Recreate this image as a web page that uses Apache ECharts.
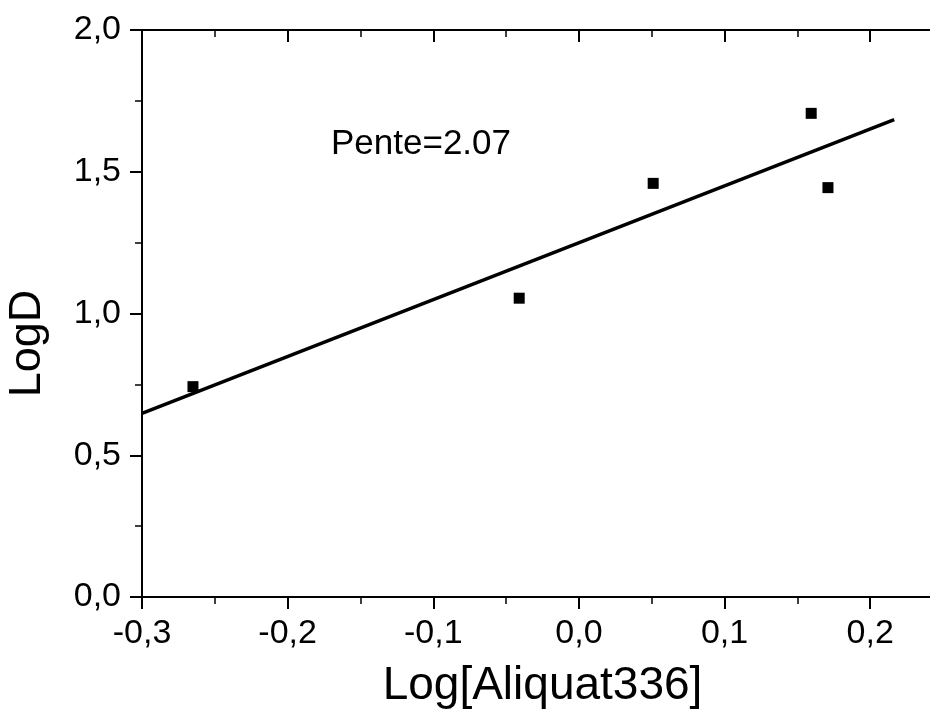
<!DOCTYPE html>
<html>
<head>
<meta charset="utf-8">
<script src="https://cdn.jsdelivr.net/npm/echarts@6/dist/echarts.min.js"></script>
<style>
  html, body { margin: 0; padding: 0; background: #fff; overflow: hidden; }
  /* wider than the window: the right frame of the plot falls just off the page */
  #chart { width: 946px; height: 714px; }
</style>
</head>
<body>
<div id="chart"></div>
<script>
// measured points: Log[Aliquat336] vs LogD
var logAliquat = [-0.265, -0.041, 0.051, 0.1595, 0.171];
var logD = [0.742, 1.054, 1.459, 1.706, 1.444];
// fitted line ends, as drawn
var fitX = [-0.3, 0.2165];
var fitY = [0.648, 1.684];
var noteText = 'Pente=2.07';

var FONT = 'Liberation Sans, Arial, sans-serif';

var points = logAliquat.map(function (x, i) { return [x, logD[i]]; });
var fitLine = fitX.map(function (x, i) { return [x, fitY[i]]; });

function commaFmt(v) {
    // only label the 0.1 steps, not the cut-off max
    if (Math.abs(Math.round(v * 10) - v * 10) > 1e-6) return '';
    if (Math.abs(v) < 1e-9) v = 0;
    return v.toFixed(1).replace('.', ',');
}

var myChart = echarts.init(document.getElementById('chart'));

var tickMajor = { show: true, length: 12, lineStyle: { color: '#000', width: 2 } };
var tickMinor = { show: true, splitNumber: 2, length: 7, lineStyle: { color: '#000', width: 1.5 } };
var line = { show: true, onZero: false, lineStyle: { color: '#000', width: 2 } };

var option = {
    animation: false,
    backgroundColor: '#fff',
    grid: { left: 142, top: 30, width: 801, height: 567, containLabel: false, outerBoundsMode: 'none' },
    xAxis: [
        {
            type: 'value', position: 'bottom',
            min: -0.3, max: 0.25, interval: 0.1,
            name: 'Log[Aliquat336]', nameLocation: 'middle', nameGap: 66,
            nameTextStyle: { fontFamily: FONT, fontSize: 46, color: '#000' },
            axisLine: line,
            axisTick: tickMajor,
            minorTick: tickMinor,
            axisLabel: { fontFamily: FONT, fontSize: 34, color: '#000', margin: 20, formatter: commaFmt, showMaxLabel: false },
            splitLine: { show: false }
        },
        {
            type: 'value', position: 'top',
            min: -0.3, max: 0.25, interval: 0.1,
            axisLine: line,
            axisTick: Object.assign({}, tickMajor, { inside: true }),
            minorTick: tickMinor,
            axisLabel: { show: false },
            splitLine: { show: false }
        }
    ],
    yAxis: [
        {
            type: 'value', position: 'left',
            min: 0, max: 2, interval: 0.5,
            name: 'LogD', nameLocation: 'middle', nameGap: 92, nameRotate: 90,
            // title sits a little below the middle of the axis
            nameTextStyle: { fontFamily: FONT, fontSize: 45, color: '#000', padding: [0, 60, 0, 0] },
            axisLine: line,
            axisTick: tickMajor,
            minorTick: tickMinor,
            axisLabel: { fontFamily: FONT, fontSize: 34, color: '#000', margin: 21, formatter: commaFmt },
            splitLine: { show: false }
        },
        {
            type: 'value', position: 'right',
            min: 0, max: 2, interval: 0.5,
            axisLine: line,
            axisTick: Object.assign({}, tickMajor, { inside: true }),
            minorTick: tickMinor,
            axisLabel: { show: false },
            splitLine: { show: false }
        }
    ],
    graphic: [
        {
            type: 'text', x: 331, y: 144,
            style: { text: noteText, font: '35px ' + FONT, fill: '#000', verticalAlign: 'middle' }
        }
    ],
    series: [
        {
            type: 'line', data: fitLine, showSymbol: false, symbol: 'none',
            lineStyle: { color: '#000', width: 3.5 }, silent: true, z: 3
        },
        {
            type: 'scatter', data: points, symbol: 'rect', symbolSize: 11,
            itemStyle: { color: '#000', opacity: 1 }, z: 4
        }
    ]
};

myChart.setOption(option);
</script>
</body>
</html>
